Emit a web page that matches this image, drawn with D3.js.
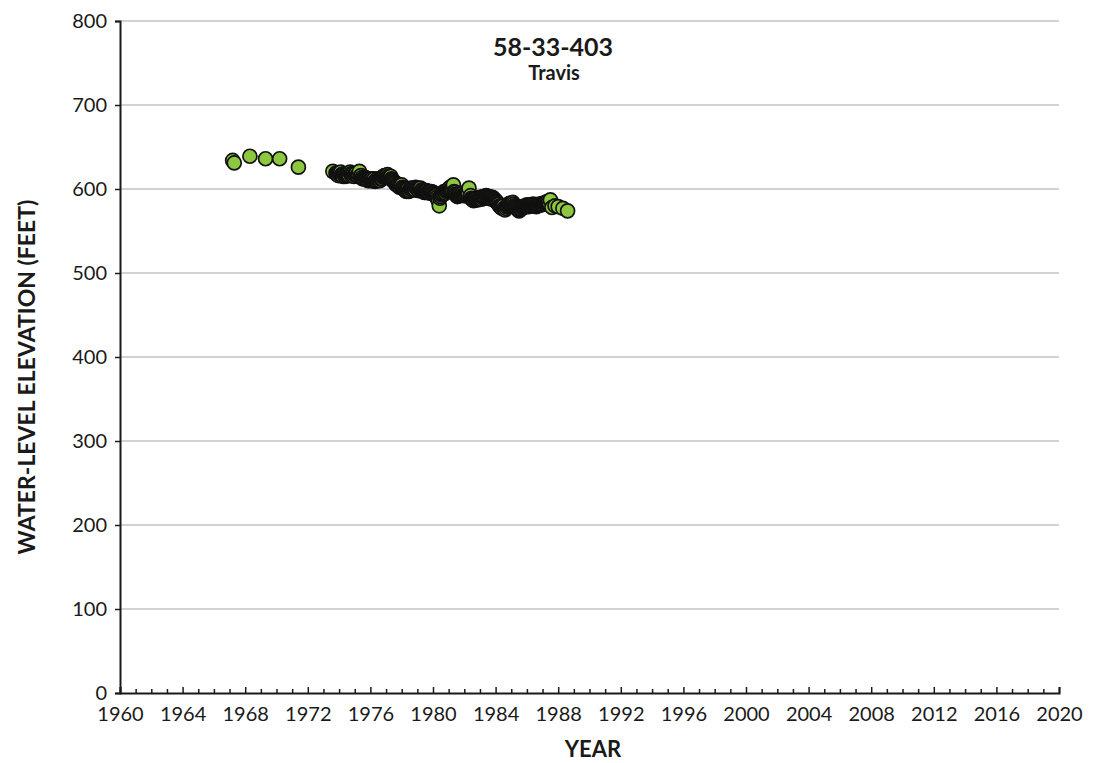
<!DOCTYPE html>
<html><head><meta charset="utf-8">
<script src="https://cdn.jsdelivr.net/npm/d3@7"></script>
<style>body{margin:0;background:#fff}svg{display:block}text{font-family:Lato,"Open Sans",sans-serif;fill:#1a1a1a}</style>
</head><body><div id="chart"></div>
<script>
const title = "58-33-403";
const subtitle = "Travis";
const xLabel = "YEAR";
const yLabel = "WATER-LEVEL ELEVATION (FEET)";
const xTicks = [1960,1964,1968,1972,1976,1980,1984,1988,1992,1996,2000,2004,2008,2012,2016,2020];
const yTicks = [0,100,200,300,400,500,600,700,800];
const years = [1967.2,1967.3,1968.3,1969.3,1970.2,1971.4,1973.6,
1973.8,1973.9,1974.0,1974.1,1974.2,1974.3,1974.4,1974.5,1974.6,1974.7,1974.8,1974.9,
1975.0,1975.1,1975.2,1975.3,1975.4,1975.5,1975.6,1975.7,1975.8,1975.9,
1976.0,1976.1,1976.2,1976.3,1976.4,1976.5,1976.6,1976.7,1976.8,1976.9,
1977.0,1977.1,1977.2,1977.3,1977.4,1977.5,1977.6,1977.7,1977.8,1977.9,
1978.0,1978.1,1978.2,1978.3,1978.4,1978.5,1978.6,1978.7,1978.8,1978.9,
1979.0,1979.1,1979.2,1979.3,1979.4,1979.5,1979.6,1979.7,1979.8,1979.9,
1980.0,1980.1,1980.2,1980.3,1980.4,1980.5,1980.6,1980.7,1980.8,1980.9,
1981.0,1981.1,1981.2,1981.3,1981.4,1981.5,1981.6,1981.7,1981.8,1981.9,
1982.0,1982.1,1982.2,1982.3,1982.4,1982.5,1982.6,1982.7,1982.8,1982.9,
1983.0,1983.1,1983.2,1983.3,1983.4,1983.5,1983.6,1983.7,1983.8,1983.9,
1984.0,1984.1,1984.2,1984.3,1984.4,1984.5,1984.6,1984.7,1984.8,1984.9,
1985.0,1985.1,1985.2,1985.3,1985.4,1985.5,1985.6,1985.7,1985.8,1985.9,
1986.0,1986.1,1986.2,1986.3,1986.4,1986.5,1986.6,1986.7,1986.8,1986.9,
1987.0,1987.1,1987.2,1987.3,1987.5,1987.6,1987.8,1988.0,1988.3,1988.6];
const levels = [634,631,639,636,636,626,621,
619,617,618,620,616,618,615,617,619,620,616,618,
617,619,615,621,616,614,612,613,611,612,
610,612,611,609,611,612,610,613,614,616,
615,617,614,615,611,609,607,606,604,603,
605,601,599,597,600,598,601,599,600,602,
600,598,601,599,597,596,598,597,595,597,
596,594,592,588,580,591,594,597,595,598,
600,602,599,605,596,593,592,594,593,595,
592,594,597,601,592,588,586,587,589,588,
590,588,591,589,592,590,591,589,590,588,
586,584,582,579,577,580,575,579,581,583,
582,584,580,578,576,574,576,579,578,580,
581,579,581,580,582,581,579,580,582,581,
583,582,584,585,587,578,580,579,577,574];
// additional readings between the ones above
const yearsB = [1973.85,1973.95,1974.05,1974.15,1974.25,1974.35,1974.45,1974.55,1974.65,1974.75,1974.85,1974.95,
1975.05,1975.15,1975.25,1975.35,1975.45,1975.55,1975.65,1975.75,1975.85,1975.95,
1976.05,1976.15,1976.25,1976.35,1976.45,1976.55,1976.65,1976.75,1976.85,1976.95,
1977.05,1977.15,1977.25,1977.35,1977.45,1977.55,1977.65,1977.75,1977.85,1977.95,
1978.05,1978.15,1978.25,1978.35,1978.45,1978.55,1978.65,1978.75,1978.85,1978.95,
1979.05,1979.15,1979.25,1979.35,1979.45,1979.55,1979.65,1979.75,1979.85,1979.95,
1980.05,1980.15,1980.25,1980.35,1980.45,1980.55,1980.65,1980.75,1980.85,1980.95,
1981.05,1981.15,1981.25,1981.35,1981.45,1981.55,1981.65,1981.75,1981.85,1981.95,
1982.05,1982.15,1982.25,1982.35,1982.45,1982.55,1982.65,1982.75,1982.85,1982.95,
1983.05,1983.15,1983.25,1983.35,1983.45,1983.55,1983.65,1983.75,1983.85,1983.95,
1984.05,1984.15,1984.25,1984.35,1984.45,1984.55,1984.65,1984.75,1984.85,1984.95,
1985.05,1985.15,1985.25,1985.35,1985.45,1985.55,1985.65,1985.75,1985.85,1985.95,
1986.05,1986.15,1986.25,1986.35,1986.45,1986.55,1986.65,1986.75,1986.85,1986.95,
1987.05,1987.15,1987.25,1987.35,1987.45];
const levelsB = [618,616,619,617,615,617,616,618,616,618,617,615,
618,616,617,615,613,612,614,612,610,611,
611,610,612,610,610,611,612,612,615,614,
616,615,613,612,610,608,605,605,602,604,
602,600,598,599,597,600,600,601,599,601,
599,600,598,598,596,597,596,596,596,595,
595,593,590,586,589,593,595,596,597,599,
601,600,598,597,594,591,593,592,594,593,
593,595,594,590,589,587,588,588,587,589,
589,590,590,590,591,589,590,588,589,587,
585,583,580,578,579,577,577,580,582,582,
583,582,579,577,575,575,577,578,579,580,
580,580,580,581,581,580,580,581,581,582,
582,583,584,583,582];

const W = 1095, H = 763;
const m = {left:120, right:36, top:21, bottom:70};
const svg = d3.select("#chart").append("svg").attr("width", W).attr("height", H);
const x = d3.scaleLinear().domain([1960, 2020]).range([m.left, W - m.right]);
const y = d3.scaleLinear().domain([0, 800]).range([H - m.bottom, m.top]);

// gridlines
svg.append("g").selectAll("line").data(yTicks.filter(d => d > 0)).join("line")
  .attr("x1", m.left).attr("x2", W - m.right)
  .attr("y1", d => y(d)).attr("y2", d => y(d))
  .attr("stroke", "#a6a6a6").attr("stroke-width", 1);

// y axis
const yAxis = svg.append("g").attr("transform", `translate(${m.left},0)`)
  .call(d3.axisLeft(y).tickValues(yTicks).tickSize(5).tickPadding(8));
yAxis.select(".domain").attr("stroke", "#1a1a1a").attr("stroke-width", 2);
yAxis.selectAll(".tick line").attr("stroke", "#1a1a1a").attr("stroke-width", 1.5);
yAxis.selectAll("text").style("font-size", "20px").style("font-family", "Lato").attr("fill", "#1a1a1a");

// x axis minor ticks
const minor = d3.range(1961, 2021).filter(d => (d - 1960) % 4 !== 0);
const xMinor = svg.append("g").attr("transform", `translate(0,${H - m.bottom})`)
  .call(d3.axisBottom(x).tickValues(minor).tickSize(-4).tickFormat(""));
xMinor.select(".domain").remove();
xMinor.selectAll(".tick line").attr("stroke", "#1a1a1a").attr("stroke-width", 1.5);

const xAxis = svg.append("g").attr("transform", `translate(0,${H - m.bottom})`)
  .call(d3.axisBottom(x).tickValues(xTicks).tickSize(-6).tickPadding(14).tickFormat(d3.format("d")));
xAxis.select(".domain").attr("stroke", "#1a1a1a").attr("stroke-width", 2);
xAxis.selectAll(".tick line").attr("stroke", "#1a1a1a").attr("stroke-width", 1.5);
xAxis.selectAll("text").style("font-size", "20px").style("font-family", "Lato").attr("fill", "#1a1a1a");

// points (drawn in date order)
const pts = years.map((yr, i) => ({yr, v: levels[i]}))
  .concat(yearsB.map((yr, i) => ({yr, v: levelsB[i]})))
  .sort((a, b) => a.yr - b.yr);
svg.append("g").selectAll("circle").data(pts).join("circle")
  .attr("cx", d => x(d.yr)).attr("cy", d => y(d.v)).attr("r", 7)
  .attr("fill", "#8dc63f").attr("stroke", "#111").attr("stroke-width", 1.7);

// titles
svg.append("text").attr("x", 553).attr("y", 56).attr("text-anchor", "middle")
  .style("font-weight", "bold").style("font-size", "25px").text(title);
svg.append("text").attr("x", 554).attr("y", 80).attr("text-anchor", "middle")
  .style("font-weight", "bold").style("font-size", "20px").text(subtitle);
svg.append("text").attr("x", 593).attr("y", 757).attr("text-anchor", "middle")
  .style("font-weight", "bold").style("font-size", "22px").text(xLabel);
svg.append("text").attr("transform", "translate(35,377) rotate(-90)").attr("text-anchor", "middle")
  .style("font-weight", "bold").style("font-size", "23px").text(yLabel);
</script></body></html>
